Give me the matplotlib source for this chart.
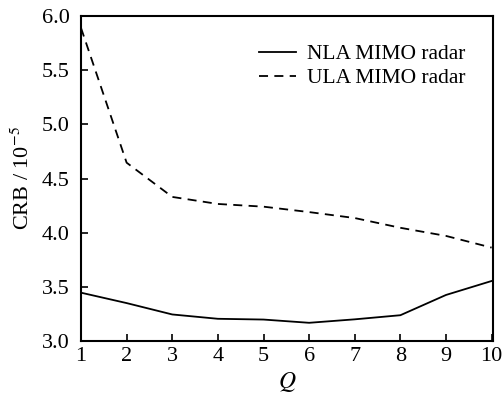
import matplotlib
matplotlib.use("Agg")
import matplotlib.pyplot as plt

Q = [1, 2, 3, 4, 5, 6, 7, 8, 9, 10]
nla = [3.446, 3.35, 3.245, 3.205, 3.198, 3.168, 3.20, 3.238, 3.425, 3.554]
ula = [5.89, 4.646, 4.33, 4.265, 4.24, 4.19, 4.135, 4.045, 3.97, 3.862]
xticks = [1, 2, 3, 4, 5, 6, 7, 8, 9, 10]
yticks = [3.0, 3.5, 4.0, 4.5, 5.0, 5.5, 6.0]

plt.rcParams['font.family'] = ['Liberation Serif', 'DejaVu Serif']
plt.rcParams['mathtext.fontset'] = 'stix'

fig = plt.figure(figsize=(5.03, 3.99), dpi=100)
ax = fig.add_axes([81/503, 1-341/399, (493-81)/503, (341-16)/399])
ax.plot(Q, nla, color='black', lw=1.3, label='NLA MIMO radar')
ax.plot(Q, ula, color='black', lw=1.3, ls=(0, (5, 3.5)), label='ULA MIMO radar')
ax.set_xlim(1, 10.03)
ax.set_ylim(3.0, 6.0)
ax.set_xticks(xticks)
ax.set_yticks(yticks)
ax.set_yticklabels([f"{v:.1f}" for v in yticks])
ax.tick_params(direction='in', labelsize=16, length=5, width=1.2, top=False, right=False)
ax.tick_params(axis='y', pad=8)
ax.tick_params(axis='x', pad=4)
for s in ax.spines.values():
    s.set_linewidth(1.5)
ax.set_xlabel('$Q$', fontsize=17, labelpad=3)
ax.set_ylabel('CRB / 10$^{-5}$', fontsize=16, labelpad=6)
ax.legend(loc='upper right', frameon=False, fontsize=15.5, handlelength=1.7,
          handletextpad=0.5, labelspacing=0.2, borderaxespad=0.9)
fig.savefig('out.png', dpi=100)
